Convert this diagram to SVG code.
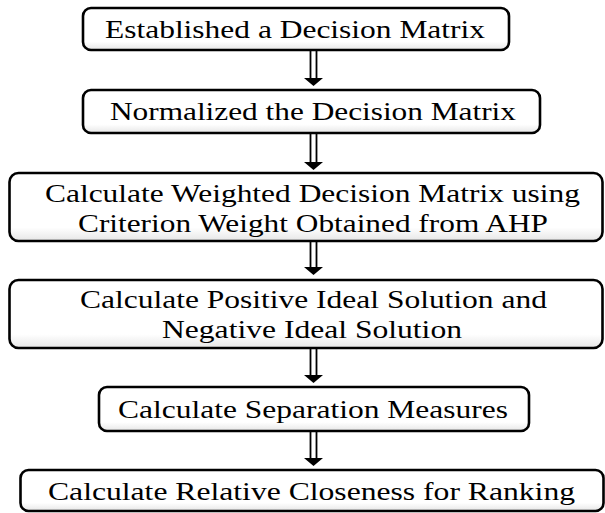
<svg xmlns="http://www.w3.org/2000/svg" width="605" height="513" viewBox="0 0 605 513">
<style>
.box{fill:url(#g);stroke:#000;stroke-width:2.6}
text{font-family:"Liberation Serif","Times New Roman",serif;font-size:25px;fill:#000}
.shaft{stroke:#000;stroke-width:1.8;fill:none}
.head{fill:#000}
</style>
<defs>
<linearGradient id="g" x1="0" y1="0" x2="0" y2="1">
<stop offset="0" stop-color="#fff"/>
<stop offset="0.8" stop-color="#fff"/>
<stop offset="1" stop-color="#e6e6e6"/>
</linearGradient>
</defs>
<rect width="605" height="513" fill="#fff"/>
<g id="connectors">
<g id="a1"><path class="shaft" d="M310.5,50V79M316.5,50V79"/><path class="head" d="M304,78H323L313.5,86Z"/></g>
<g id="a2"><path class="shaft" d="M310.5,133V163M316.5,133V163"/><path class="head" d="M304,162H323L313.5,170Z"/></g>
<g id="a3"><path class="shaft" d="M310.5,241V268M316.5,241V268"/><path class="head" d="M304,267H323L313.5,275Z"/></g>
<g id="a4"><path class="shaft" d="M310.5,348V376M316.5,348V376"/><path class="head" d="M304,375H323L313.5,383Z"/></g>
<g id="a5"><path class="shaft" d="M310.5,431V459M316.5,431V459"/><path class="head" d="M304,458H323L313.5,466Z"/></g>
</g>
<g id="n1">
<rect class="box" x="83" y="8" width="426" height="42" rx="8"/>
<text transform="scale(1.26,1)" x="83.33" y="38" textLength="301.6" lengthAdjust="spacingAndGlyphs">Established a Decision Matrix</text>
</g>
<g id="n2">
<rect class="box" x="83" y="90" width="457" height="43" rx="8"/>
<text transform="scale(1.26,1)" x="87.30" y="120" textLength="322.2" lengthAdjust="spacingAndGlyphs">Normalized the Decision Matrix</text>
</g>
<g id="n3">
<rect class="box" x="9.5" y="173" width="593" height="68" rx="9"/>
<text transform="scale(1.26,1)" x="35.71" y="202" textLength="424.6" lengthAdjust="spacingAndGlyphs">Calculate Weighted Decision Matrix using</text>
<text transform="scale(1.26,1)" x="61.90" y="232" textLength="373.0" lengthAdjust="spacingAndGlyphs">Criterion Weight Obtained from AHP</text>
</g>
<g id="n4">
<rect class="box" x="9.5" y="280" width="593" height="68" rx="9"/>
<text transform="scale(1.26,1)" x="63.49" y="308" textLength="370.6" lengthAdjust="spacingAndGlyphs">Calculate Positive Ideal Solution and</text>
<text transform="scale(1.26,1)" x="128.57" y="338" textLength="238.1" lengthAdjust="spacingAndGlyphs">Negative Ideal Solution</text>
</g>
<g id="n5">
<rect class="box" x="99" y="387" width="430" height="44" rx="8"/>
<text transform="scale(1.26,1)" x="93.65" y="418" textLength="309.5" lengthAdjust="spacingAndGlyphs">Calculate Separation Measures</text>
</g>
<g id="n6">
<rect class="box" x="20.5" y="470" width="583" height="41" rx="8"/>
<text transform="scale(1.26,1)" x="38.10" y="500" textLength="418.3" lengthAdjust="spacingAndGlyphs">Calculate Relative Closeness for Ranking</text>
</g>
</svg>
